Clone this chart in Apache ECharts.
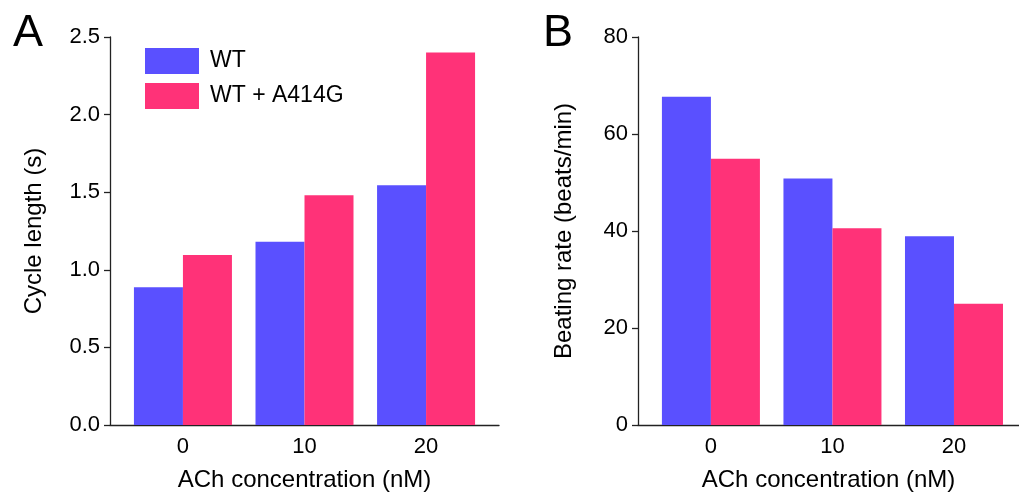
<!DOCTYPE html>
<html>
<head>
<meta charset="utf-8">
<script src="https://cdn.jsdelivr.net/npm/echarts@6/dist/echarts.min.js"></script>
<style>
html,body{margin:0;padding:0;background:#fff;}
#chart{width:1019px;height:493px;}
</style>
</head>
<body>
<div id="chart"></div>
<script>
const concentrations = [0, 10, 20];
const seriesNames = ['WT', 'WT + A414G'];
const cycleWT = [0.887, 1.181, 1.544];
const cycleMut = [1.095, 1.48, 2.40];
const rateWT = [67.7, 50.8, 38.9];
const rateMut = [54.9, 40.55, 25.0];
const cycleTicks = [0, 0.5, 1.0, 1.5, 2.0, 2.5];
const rateTicks = [0, 20, 40, 60, 80];

const BLUE = '#5A50FF';
const PINK = '#FF3278';
const FONT = 'Liberation Sans, Arial, sans-serif';

function pairs(xs, ys) { return xs.map((x, i) => [x, ys[i]]); }

const chart = echarts.init(document.getElementById('chart'));

function xAxisDef(gridIndex, max) {
  return {
    type: 'value', gridIndex: gridIndex, min: -6, max: max,
    name: 'ACh concentration (nM)', nameLocation: 'middle', nameGap: 43,
    nameTextStyle: { fontSize: 24, color: '#000', fontFamily: FONT },
    axisLine: { show: true, onZero: false, lineStyle: { color: '#222', width: 1.3 } },
    axisTick: { show: false },
    splitLine: { show: false },
    axisLabel: { customValues: concentrations, fontSize: 22, color: '#000', fontFamily: FONT, margin: 11,
      formatter: v => String(v) }
  };
}
function yAxisDef(gridIndex, name, ticks, fmt) {
  return {
    type: 'value', gridIndex: gridIndex, min: ticks[0], max: ticks[ticks.length - 1],
    interval: ticks[1] - ticks[0],
    name: name, nameLocation: 'middle', nameGap: fmt ? 64 : 62,
    nameTextStyle: { fontSize: 24, color: '#000', fontFamily: FONT },
    axisLine: { show: true, onZero: false, lineStyle: { color: '#222', width: 1.3 } },
    axisTick: { show: true, length: 6, lineStyle: { color: '#222', width: 1.3 } },
    splitLine: { show: false },
    axisLabel: { fontSize: 22, color: '#000', fontFamily: FONT, margin: 10,
      formatter: v => fmt ? v.toFixed(1) : String(v) }
  };
}

function barSeries(name, data, color, idx) {
  return {
    name: name, type: 'bar', xAxisIndex: idx, yAxisIndex: idx,
    data: data, barWidth: 49, barGap: '0%',
    itemStyle: { color: color }, silent: true
  };
}

chart.setOption({
  animation: false,
  backgroundColor: '#fff',
  graphic: [
    { type: 'text', left: 13, top: 11, style: { text: 'A', fontSize: 45, fontFamily: FONT, fill: '#000' } },
    { type: 'text', left: 543, top: 11, style: { text: 'B', fontSize: 45, fontFamily: FONT, fill: '#000' } }
  ],
  legend: {
    data: seriesNames, orient: 'vertical', left: 145, top: 48,
    itemWidth: 54, itemHeight: 26, itemGap: 9, icon: 'rect',
    textStyle: { fontSize: 23, color: '#000', fontFamily: FONT, padding: [0, 0, 0, 6] },
    padding: 0, selectedMode: false
  },
  grid: [
    { left: 110, top: 37, width: 389, height: 388, containLabel: false, outerBoundsMode: 'none' },
    { left: 638, top: 37, width: 381, height: 388, containLabel: false, outerBoundsMode: 'none' }
  ],
  xAxis: [xAxisDef(0, 26), xAxisDef(1, 25.35)],
  yAxis: [
    yAxisDef(0, 'Cycle length (s)', cycleTicks, true),
    yAxisDef(1, 'Beating rate (beats/min)', rateTicks, false)
  ],
  series: [
    barSeries(seriesNames[0], pairs(concentrations, cycleWT), BLUE, 0),
    barSeries(seriesNames[1], pairs(concentrations, cycleMut), PINK, 0),
    barSeries(seriesNames[0], pairs(concentrations, rateWT), BLUE, 1),
    barSeries(seriesNames[1], pairs(concentrations, rateMut), PINK, 1)
  ]
});
</script>
</body>
</html>
